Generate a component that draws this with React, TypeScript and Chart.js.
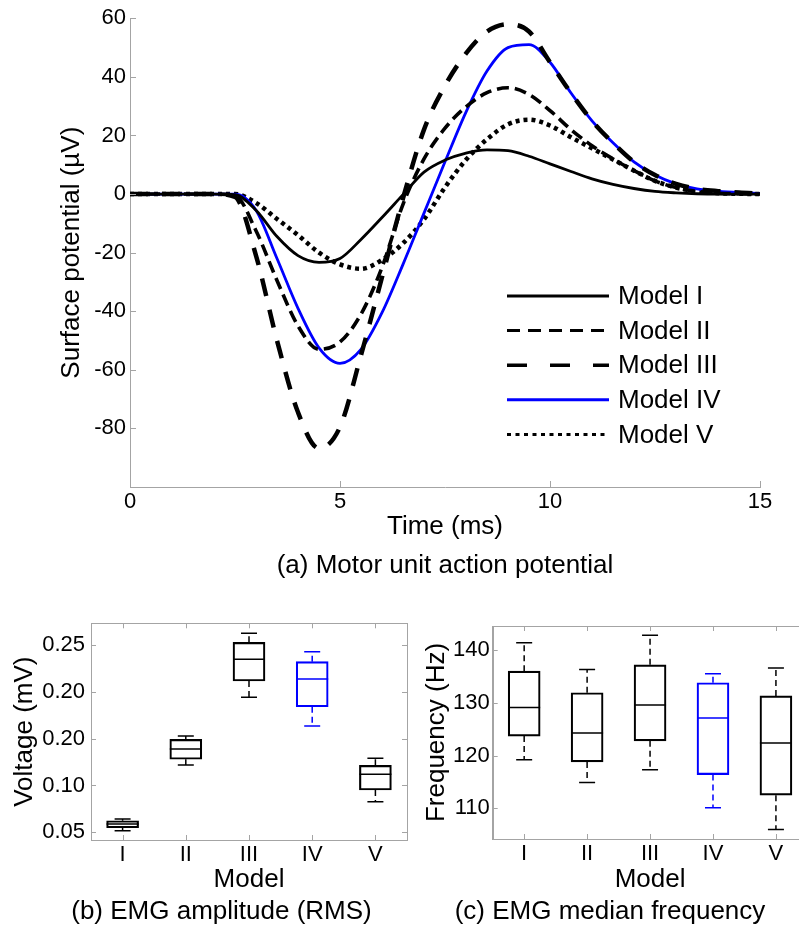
import React, { useEffect, useRef } from 'react';
import { Chart, registerables } from 'chart.js';

Chart.register(...registerables);

const FONT = '"Liberation Sans", Arial, Helvetica, sans-serif';
const AXIS_GREY = '#a4a4a4';
const BLUE = '#0000ff';
const BLACK = '#000000';

// ---------- (a) Motor unit action potential ----------
const TIME_MS = [0, 0.5, 1, 1.5, 2, 2.5, 3, 3.5, 4, 4.5, 5, 5.5, 6, 6.5, 7, 7.5, 8, 8.5, 9, 9.5, 10, 10.5, 11, 11.5, 12, 12.5, 13, 13.5, 14, 14.5, 15];
const MODEL_I = [0, 0, 0, 0, 0, -0.2, -5.5, -14.5, -21, -23.3, -22, -15.5, -8, -0.2, 7.5, 11.6, 14, 15.1, 14.8, 12.9, 10.3, 7.7, 5.2, 3.3, 1.9, 0.9, 0.4, 0.1, 0, 0, 0];
const MODEL_II = [0, 0, 0, 0, 0, -0.5, -12.5, -29.5, -45, -53, -50.5, -41, -25, -3.5, 12, 22.5, 29.8, 34.6, 36.3, 34, 28.5, 22, 16.5, 12, 8, 4.5, 2.2, 0.9, 0.3, 0.1, 0];
const MODEL_III = [0, 0, 0, 0, 0, -1, -21, -50, -74.5, -86.8, -79.5, -55, -28.4, -1.5, 22, 37, 48, 55.5, 58, 55.5, 45, 34.5, 25, 17.5, 11, 6.5, 3.5, 1.8, 1, 0.5, 0.2];
const MODEL_IV = [0, 0, 0, 0, 0, 0, -5.5, -22, -39, -52.5, -57.8, -53, -40.5, -24, -6.5, 11, 28, 42, 50, 51, 45, 34.5, 25, 17.5, 11, 6.5, 3.5, 1.8, 1, 0.5, 0.2];
const MODEL_V = [0, 0, 0, 0, 0, 0, -3, -8.5, -14, -20, -24, -25.5, -22.5, -16.8, -8.6, 2.3, 11.7, 18.7, 23.8, 25.4, 23.4, 19.4, 15.6, 11.8, 8, 4.5, 2.2, 0.9, 0.3, 0.1, 0];
const SERIES_LABELS = ['Model I', 'Model II', 'Model III', 'Model IV', 'Model V'];
const X_TICKS_A = [0, 5, 10, 15];
const Y_TICKS_A = [-80, -60, -40, -20, 0, 20, 40, 60];

// ---------- (b) EMG amplitude (RMS) ----------
const MODELS = ['I', 'II', 'III', 'IV', 'V'];
const RMS_LOW = [0.0517, 0.1219, 0.1942, 0.1635, 0.0827];
const RMS_Q1 = [0.0549, 0.128, 0.2116, 0.1841, 0.0952];
const RMS_MED = [0.0589, 0.1389, 0.2347, 0.2137, 0.1119];
const RMS_Q3 = [0.0624, 0.1493, 0.2529, 0.2322, 0.1215];
const RMS_HIGH = [0.0642, 0.1528, 0.2625, 0.2429, 0.129];
const RMS_TICKS = [0.05, 0.1, 0.15, 0.2, 0.25];
const RMS_TICK_LABELS = ['0.05', '0.10', '0.20', '0.20', '0.25'];

// ---------- (c) EMG median frequency ----------
const MDF_LOW = [119.2, 114.9, 117.3, 110.1, 106.0];
const MDF_Q1 = [123.7, 118.8, 122.8, 116.4, 112.5];
const MDF_MED = [129.1, 124.3, 129.6, 127.1, 122.4];
const MDF_Q3 = [136.0, 131.9, 137.2, 133.8, 131.3];
const MDF_HIGH = [141.4, 136.3, 142.8, 135.5, 136.6];
const MDF_TICKS = [110, 120, 130, 140];

const BOX_COLORS = [BLACK, BLACK, BLACK, BLUE, BLACK];

// ---------- plugins ----------
const frameTicks = {
  id: 'frameTicks',
  afterDraw(chart: any, _a: any, opts: any) {
    if (!opts || !opts.enabled) return;
    const { ctx, chartArea: a, scales } = chart;
    const len = opts.length;
    ctx.save();
    ctx.strokeStyle = AXIS_GREY;
    ctx.lineWidth = 1;
    if (opts.box) {
      ctx.strokeRect(Math.round(a.left) + 0.5, Math.round(a.top) + 0.5, Math.round(a.right - a.left), Math.round(a.bottom - a.top));
    }
    ctx.beginPath();
    const sx = scales.x;
    sx.ticks.forEach((_t: any, i: number) => {
      const px = Math.round(sx.getPixelForTick(i)) + 0.5;
      ctx.moveTo(px, a.bottom);
      ctx.lineTo(px, a.bottom - len);
      if (opts.box) {
        ctx.moveTo(px, a.top);
        ctx.lineTo(px, a.top + len);
      }
    });
    const sy = scales.y;
    sy.ticks.forEach((_t: any, i: number) => {
      const py = Math.round(sy.getPixelForTick(i)) + 0.5;
      ctx.moveTo(a.left, py);
      ctx.lineTo(a.left + len, py);
      if (opts.box) {
        ctx.moveTo(a.right, py);
        ctx.lineTo(a.right - len, py);
      }
    });
    ctx.stroke();
    ctx.restore();
  },
};

const lineLegend = {
  id: 'lineLegend',
  afterDraw(chart: any, _a: any, opts: any) {
    if (!opts || !opts.enabled) return;
    const { ctx } = chart;
    ctx.save();
    ctx.font = `26px ${FONT}`;
    ctx.textBaseline = 'middle';
    ctx.textAlign = 'left';
    chart.data.datasets.forEach((ds: any, i: number) => {
      const y = opts.y0 + i * opts.dy;
      ctx.beginPath();
      ctx.strokeStyle = ds.borderColor;
      ctx.lineWidth = ds.legendWidth || ds.borderWidth;
      ctx.setLineDash(ds.legendDash || []);
      ctx.moveTo(opts.x, y);
      ctx.lineTo(opts.x + opts.len, y);
      ctx.stroke();
      ctx.setLineDash([]);
      ctx.fillStyle = '#000';
      ctx.fillText(ds.label, opts.x + opts.len + opts.gap, y + 1);
    });
    ctx.restore();
  },
};

const boxExtras = {
  id: 'boxExtras',
  afterDatasetsDraw(chart: any, _a: any, opts: any) {
    if (!opts || !opts.enabled) return;
    const { ctx, scales } = chart;
    const sx = scales.x;
    const sy = scales.y;
    const meta = chart.getDatasetMeta(0);
    ctx.save();
    opts.med.forEach((m: number, i: number) => {
      const bar = meta.data[i];
      const half = bar.width / 2;
      const cx = sx.getPixelForValue(i);
      ctx.strokeStyle = opts.colors[i];
      ctx.lineWidth = 1.5;
      ctx.setLineDash([]);
      ctx.beginPath();
      const ym = sy.getPixelForValue(m);
      ctx.moveTo(cx - half, ym);
      ctx.lineTo(cx + half, ym);
      const yh = sy.getPixelForValue(opts.high[i]);
      const yl = sy.getPixelForValue(opts.low[i]);
      ctx.moveTo(cx - half / 2, yh);
      ctx.lineTo(cx + half / 2, yh);
      ctx.moveTo(cx - half / 2, yl);
      ctx.lineTo(cx + half / 2, yl);
      ctx.stroke();
      ctx.setLineDash([6, 4]);
      ctx.beginPath();
      ctx.moveTo(cx, sy.getPixelForValue(opts.q3[i]));
      ctx.lineTo(cx, yh);
      ctx.moveTo(cx, sy.getPixelForValue(opts.q1[i]));
      ctx.lineTo(cx, yl);
      ctx.stroke();
    });
    ctx.restore();
  },
};

const tickFont = { family: FONT, size: 22 };
const titleFont = { family: FONT, size: 26 };

function lineDataset(label: string, values: number[], color: string, width: number, dash: number[], legendDash: number[], legendWidth: number) {
  return {
    label,
    data: TIME_MS.map((t, i) => ({ x: t, y: values[i] })),
    borderColor: color,
    borderWidth: width,
    borderDash: dash,
    legendDash,
    legendWidth,
    pointRadius: 0,
    fill: false,
    cubicInterpolationMode: 'monotone',
  };
}

function MapChart() {
  const ref = useRef<HTMLCanvasElement | null>(null);
  useEffect(() => {
    const chart = new Chart(ref.current as HTMLCanvasElement, {
      type: 'line',
      data: {
        datasets: [
          lineDataset(SERIES_LABELS[0], MODEL_I, BLACK, 2.8, [], [], 3),
          lineDataset(SERIES_LABELS[1], MODEL_II, BLACK, 3.6, [12, 6], [13, 8], 3),
          lineDataset(SERIES_LABELS[2], MODEL_III, BLACK, 4.5, [18, 14], [20, 23], 3.5),
          lineDataset(SERIES_LABELS[3], MODEL_IV, BLUE, 2.8, [], [], 3),
          lineDataset(SERIES_LABELS[4], MODEL_V, BLACK, 4.5, [4, 4], [4, 4.5], 3),
        ] as any,
      },
      plugins: [frameTicks, lineLegend],
      options: {
        animation: false,
        responsive: false,
        events: [],
        layout: { padding: { left: 56.4, right: 39, top: 18.3, bottom: 47.4 } },
        scales: {
          x: {
            type: 'linear',
            min: 0,
            max: 15,
            afterBuildTicks: (s: any) => { s.ticks = X_TICKS_A.map((v) => ({ value: v })); },
            afterFit: (s: any) => { s.height = 55.6; },
            grid: { display: false, drawTicks: false },
            border: { display: true, color: AXIS_GREY, width: 1 },
            ticks: { font: tickFont, color: '#000', padding: 2, maxRotation: 0 },
            title: { display: true, text: 'Time (ms)', font: titleFont, color: '#000', padding: 0 },
          },
          y: {
            type: 'linear',
            min: -100,
            max: 60,
            afterBuildTicks: (s: any) => { s.ticks = Y_TICKS_A.map((v) => ({ value: v })); },
            afterFit: (s: any) => { s.width = 73.6; },
            grid: { display: false, drawTicks: false },
            border: { display: true, color: AXIS_GREY, width: 1 },
            ticks: { font: tickFont, color: '#000', padding: 4 },
            title: { display: true, text: 'Surface potential (µV)', font: titleFont, color: '#000', padding: 0 },
          },
        },
        plugins: {
          legend: { display: false },
          tooltip: { enabled: false },
          frameTicks: { enabled: true, length: 6, box: false },
          lineLegend: { enabled: true, x: 507, y0: 296, dy: 34.6, len: 102, gap: 9 },
        } as any,
      },
    });
    return () => chart.destroy();
  }, []);
  return <canvas ref={ref} width={799} height={590} style={{ position: 'absolute', left: 0, top: 0, display: 'block' }} />;
}

interface BoxProps {
  left: number;
  low: number[]; q1: number[]; med: number[]; q3: number[]; high: number[];
  yMin: number; yMax: number; yTicks: number[]; yTickLabels?: string[];
  yTitle: string;
  padding: { left: number; right: number; top: number; bottom: number };
  yWidth: number; xHeight: number; yTickPad: number;
}

function BoxChart(p: BoxProps) {
  const ref = useRef<HTMLCanvasElement | null>(null);
  useEffect(() => {
    const chart = new Chart(ref.current as HTMLCanvasElement, {
      type: 'bar',
      data: {
        labels: MODELS,
        datasets: [
          {
            data: p.q1.map((v, i) => [v, p.q3[i]]),
            backgroundColor: 'rgba(0,0,0,0)',
            borderColor: BOX_COLORS,
            borderWidth: 1.5,
            borderSkipped: false,
            barThickness: 32,
          } as any,
        ],
      },
      plugins: [frameTicks, boxExtras],
      options: {
        animation: false,
        responsive: false,
        events: [],
        layout: { padding: p.padding },
        scales: {
          x: {
            type: 'category',
            offset: true,
            afterFit: (s: any) => { s.height = p.xHeight; },
            grid: { display: false, drawTicks: false },
            border: { display: true, color: AXIS_GREY, width: 1 },
            ticks: { font: tickFont, color: '#000', padding: 2, maxRotation: 0 },
            title: { display: true, text: 'Model', font: titleFont, color: '#000', padding: 0 },
          },
          y: {
            type: 'linear',
            min: p.yMin,
            max: p.yMax,
            afterBuildTicks: (s: any) => { s.ticks = p.yTicks.map((v) => ({ value: v })); },
            afterFit: (s: any) => { s.width = p.yWidth; },
            grid: { display: false, drawTicks: false },
            border: { display: true, color: AXIS_GREY, width: 1 },
            ticks: {
              font: tickFont,
              color: '#000',
              padding: p.yTickPad,
              callback: (v: any, i: number) => (p.yTickLabels ? p.yTickLabels[i] : String(v)),
            },
            title: { display: true, text: p.yTitle, font: titleFont, color: '#000', padding: 0 },
          },
        },
        plugins: {
          legend: { display: false },
          tooltip: { enabled: false },
          frameTicks: { enabled: true, length: 5, box: true },
          boxExtras: { enabled: true, low: p.low, q1: p.q1, med: p.med, q3: p.q3, high: p.high, colors: BOX_COLORS },
        } as any,
      },
    });
    return () => chart.destroy();
  }, []);
  return <canvas ref={ref} width={420} height={328} style={{ position: 'absolute', left: p.left, top: 600, display: 'block' }} />;
}

function Caption({ text, cx, cy }: { text: string; cx: number; cy: number }) {
  return (
    <div
      style={{
        position: 'absolute',
        left: cx - 300,
        top: cy - 15,
        width: 600,
        height: 30,
        lineHeight: '30px',
        textAlign: 'center',
        fontFamily: FONT,
        fontSize: 26,
        color: '#000',
        whiteSpace: 'nowrap',
      }}
    >
      {text}
    </div>
  );
}

export default function App() {
  return (
    <div style={{ position: 'absolute', left: 0, top: 0, width: 799, height: 928, overflow: 'hidden', background: '#fff' }}>
      <MapChart />
      <Caption text="(a) Motor unit action potential" cx={445} cy={564} />
      <BoxChart
        left={0}
        low={RMS_LOW} q1={RMS_Q1} med={RMS_MED} q3={RMS_Q3} high={RMS_HIGH}
        yMin={0.0418} yMax={0.2732} yTicks={RMS_TICKS} yTickLabels={RMS_TICK_LABELS}
        yTitle="Voltage (mV)"
        padding={{ left: 9.4, right: 13, top: 23.3, bottom: 32.4 }}
        yWidth={81.6} xHeight={55.6} yTickPad={6}
      />
      <BoxChart
        left={400}
        low={MDF_LOW} q1={MDF_Q1} med={MDF_MED} q3={MDF_Q3} high={MDF_HIGH}
        yMin={104.2} yMax={144.55} yTicks={MDF_TICKS}
        yTitle="Frequency (Hz)"
        padding={{ left: 21.1, right: 12.6, top: 26, bottom: 32.4 }}
        yWidth={71.6} xHeight={56.6} yTickPad={3}
      />
      <Caption text="(b) EMG amplitude (RMS)" cx={221.5} cy={910} />
      <Caption text="(c) EMG median frequency" cx={610} cy={910} />
    </div>
  );
}
